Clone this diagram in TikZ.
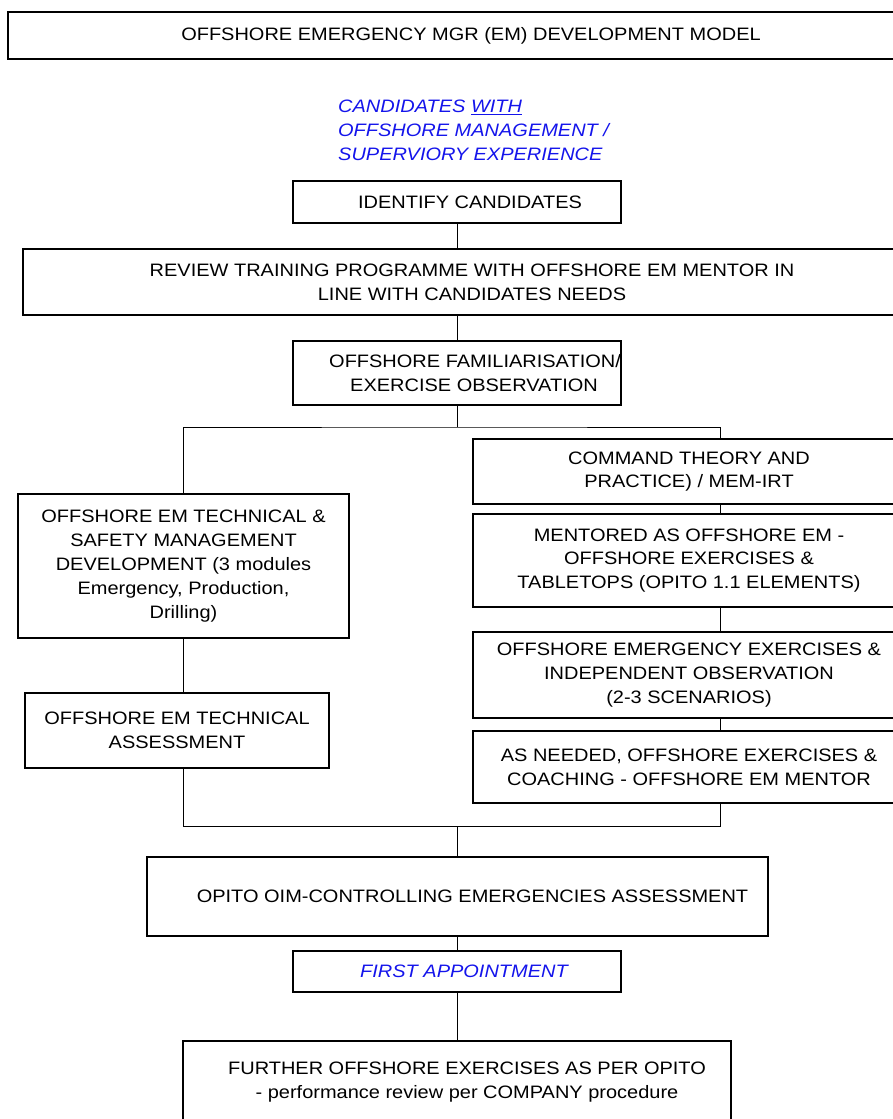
\documentclass[tikz,border=0pt]{standalone}
\usepackage{fontspec}
\setmainfont{Liberation Sans}[FakeStretch=1.11]
\definecolor{txtblue}{RGB}{20,20,235}
\begin{document}
\begin{tikzpicture}[x=1pt,y=-1pt,
  box/.style={draw, line width=1.5pt, inner sep=0pt, align=center, font=\fontsize{18}{23.8}\selectfont},
  note/.style={inner sep=0pt, align=left, text=txtblue, font=\fontsize{18}{23.8}\selectfont\itshape},
  conn/.style={line width=0.9pt}]
\path[use as bounding box] (0,0) rectangle (893,1119);
\clip (0,0) rectangle (893,1119);

\node[box, minimum width=926, minimum height=47] (title) at (471,35.5) {OFFSHORE EMERGENCY MGR (EM) DEVELOPMENT MODEL};
\node[note, anchor=north west] (cand) at (338,100) {CANDIDATES \underline{WITH}\\OFFSHORE MANAGEMENT /\\SUPERVIORY EXPERIENCE};

\node[box, minimum width=328, minimum height=42] (ident) at (457,202) {\hspace*{26pt}IDENTIFY CANDIDATES};
\node[box, minimum width=898, minimum height=66] (review) at (472,282) {REVIEW TRAINING PROGRAMME WITH OFFSHORE EM MENTOR IN\\LINE WITH CANDIDATES NEEDS};
\node[box, minimum width=328, minimum height=64] (fam) at (457,373) {\makebox[290pt]{\hspace*{36pt}OFFSHORE FAMILIARISATION/}\\\makebox[290pt]{\hspace*{34pt}EXERCISE OBSERVATION}};

\node[box, minimum width=432, minimum height=65] (cmd) at (689,471.5) {COMMAND THEORY AND\\PRACTICE) / MEM-IRT};
\node[box, minimum width=432, minimum height=93] (ment) at (689,560.5) {MENTORED AS OFFSHORE EM -\\OFFSHORE EXERCISES \&\\TABLETOPS (OPITO 1.1 ELEMENTS)};
\node[box, minimum width=432, minimum height=86] (emerg) at (689,675) {OFFSHORE EMERGENCY EXERCISES \&\\INDEPENDENT OBSERVATION\\(2-3 SCENARIOS)};
\node[box, minimum width=432, minimum height=72] (asn) at (689,767) {AS NEEDED, OFFSHORE EXERCISES \&\\COACHING - OFFSHORE EM MENTOR};

\node[box, minimum width=331, minimum height=144] (tech) at (183.5,566) {OFFSHORE EM TECHNICAL \&\\SAFETY MANAGEMENT\\DEVELOPMENT (3 modules\\Emergency, Production,\\Drilling)};
\node[box, minimum width=304, minimum height=75] (assess) at (177,730.5) {OFFSHORE EM TECHNICAL\\ASSESSMENT};

\node[box, minimum width=621, minimum height=79] (opito) at (457.5,896.5) {\hspace*{30pt}OPITO OIM-CONTROLLING EMERGENCIES ASSESSMENT};
\node[box, minimum width=328, minimum height=41, text=txtblue] (first) at (457,971.5) {\hspace*{14pt}\itshape FIRST APPOINTMENT};
\node[box, minimum width=548, minimum height=82] (further) at (457,1082) {\hspace*{20pt}FURTHER OFFSHORE EXERCISES AS PER OPITO\\\hspace*{20pt}- performance review per COMPANY procedure};

\coordinate (lx) at (183,0);
\coordinate (rx) at (720,0);
\coordinate (split) at (457,427);
\coordinate (join) at (457,826);

\draw[conn] (ident.south) -- (ident.south |- review.north);
\draw[conn] (fam.north |- review.south) -- (fam.north);
\draw[conn] (fam.south) -- (split);
\draw[conn] (tech.north -| lx) |- (split) -| (cmd.north -| rx);
\draw[conn] (cmd.south -| rx) -- (ment.north -| rx);
\draw[conn] (ment.south -| rx) -- (emerg.north -| rx);
\draw[conn] (emerg.south -| rx) -- (asn.north -| rx);
\draw[conn] (tech.south -| lx) -- (assess.north -| lx);
\draw[conn] (assess.south -| lx) |- (join) -| (asn.south -| rx);
\draw[conn] (join) -- (join |- opito.north);
\draw[conn] (first.north |- opito.south) -- (first.north);
\draw[conn] (first.south) -- (further.north);
\end{tikzpicture}
\end{document}
